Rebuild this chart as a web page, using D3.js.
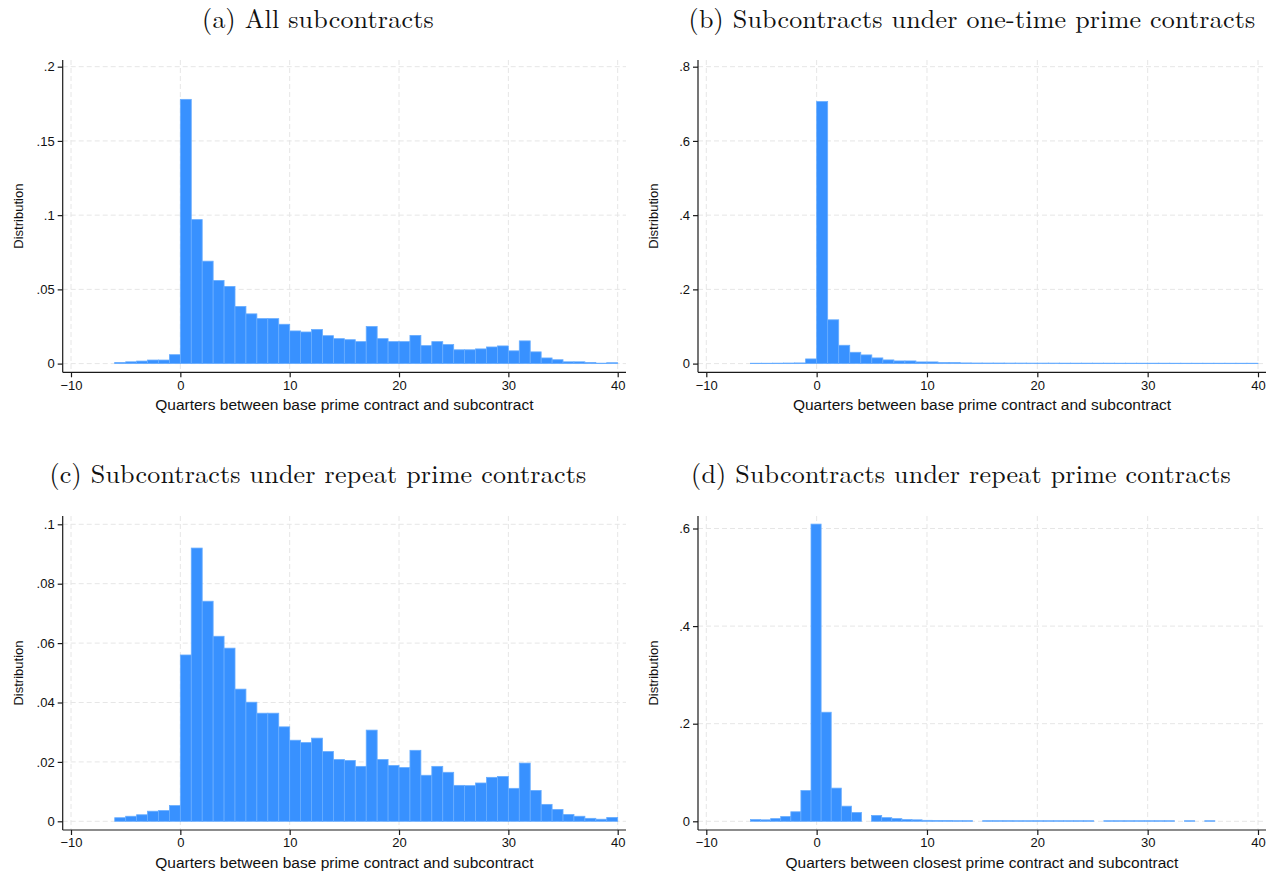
<!DOCTYPE html>
<meta charset="utf-8">
<head> <title> Timing of subcontracts </title>
<style>

body { margin: 0; background: #fff; }

.grid line {
  stroke: #e6e6e6;
  stroke-dasharray: 5,3;
  stroke-width: 1px;
}

.bars rect {
  fill: #3891ff;
  stroke: #68adff;
  stroke-width: 0.8px;
}

.axis line, .axis-line {
  stroke: #1a1a1a;
  stroke-width: 1.2px;
}

.axis text {
  font-family: "Liberation Sans", Arial, sans-serif;
  font-size: 13px;
  fill: #111;
}

.xlabel, .ylabel {
  font-family: "Liberation Sans", Arial, sans-serif;
  fill: #111;
}

.title {
  font-family: "Latin Modern Roman", "CMU Serif", "Liberation Serif", serif;
  font-size: 26px;
  letter-spacing: 0.2px;
  fill: #111;
}

</style>
</head>
<body>
<svg width="1279" height="875"></svg>
<script src="https://cdn.jsdelivr.net/npm/d3@7/dist/d3.min.js"></script>
<script>

// x ticks (quarters) shared by all four panels
var quarterTicks = [-10, 0, 10, 20, 30, 40];

// histogram bins: first left edge and bin width for each panel
var binStart = [-6, -6, -6, -6];
var binWidth = [1, 1, 1, 0.915];

// (a) all subcontracts, bins -6 .. 39
var allSubs = [0.0008, 0.0012, 0.0017, 0.0024, 0.0024, 0.006,
  0.178, 0.097, 0.069, 0.056, 0.052, 0.0385, 0.0335, 0.0303, 0.0303, 0.0265,
  0.022, 0.0213, 0.023, 0.0188, 0.0168, 0.0161, 0.0148, 0.025, 0.0168, 0.0148,
  0.0148, 0.019, 0.0121, 0.0148, 0.0128, 0.0093, 0.0093, 0.0099, 0.0112, 0.0119,
  0.0086, 0.0153, 0.0079, 0.0038, 0.0026, 0.0012, 0.0012, 0.0008, 0.0003, 0.0006];

// (b) subcontracts under one-time prime contracts
var oneTimeSubs = [0.001, 0.001, 0.0012, 0.0015, 0.0018, 0.0126,
  0.706, 0.118, 0.0494, 0.0305, 0.0234, 0.0153, 0.0099, 0.0072, 0.0072, 0.0045,
  0.0045, 0.0027, 0.0027, 0.0018, 0.0016, 0.0015, 0.0015, 0.0014, 0.0014, 0.0013,
  0.0013, 0.0013, 0.0012, 0.0012, 0.0012, 0.0012, 0.0012, 0.0011, 0.0011, 0.0011,
  0.0011, 0.0011, 0.001, 0.001, 0.001, 0.001, 0.001, 0.001, 0.001, 0.001];

// (c) subcontracts under repeat prime contracts, base prime contract
var repeatSubs = [0.0012, 0.0017, 0.0022, 0.0034, 0.0036, 0.0053,
  0.056, 0.092, 0.0741, 0.0623, 0.0583, 0.0445, 0.0401, 0.0364, 0.0364, 0.0318,
  0.0273, 0.0265, 0.028, 0.0235, 0.0208, 0.0205, 0.0185, 0.0307, 0.0208, 0.0188,
  0.0181, 0.0239, 0.0155, 0.0185, 0.0165, 0.0121, 0.012, 0.0129, 0.0148, 0.0151,
  0.0111, 0.0196, 0.0104, 0.0057, 0.004, 0.0023, 0.0017, 0.001, 0.0007, 0.0013];

// (d) subcontracts under repeat prime contracts, closest prime contract
var closestSubs = [0.0035, 0.003, 0.0055, 0.0097, 0.0195, 0.063,
  0.609, 0.2235, 0.068, 0.031, 0.018, 0, 0.012, 0.0075, 0.0055, 0.0035,
  0.003, 0.002, 0.0015, 0.0015, 0.0013, 0.0013, 0, 0.0013, 0.0013, 0.0013,
  0.0012, 0.0012, 0.0012, 0.0012, 0.0012, 0.0012, 0.0012, 0.0012, 0, 0.0012,
  0.0012, 0.0012, 0.0012, 0.0012, 0.0012, 0.0012, 0, 0.0012, 0, 0.0012];

// y ticks for each panel
var yTicksA = [0, 0.05, 0.1, 0.15, 0.2];
var yTicksB = [0, 0.2, 0.4, 0.6, 0.8];
var yTicksC = [0, 0.02, 0.04, 0.06, 0.08, 0.1];
var yTicksD = [0, 0.2, 0.4, 0.6];

var titles = ["(a) All subcontracts",
  "(b) Subcontracts under one-time prime contracts",
  "(c) Subcontracts under repeat prime contracts",
  "(d) Subcontracts under repeat prime contracts"];

var xLabels = ["Quarters between base prime contract and subcontract",
  "Quarters between base prime contract and subcontract",
  "Quarters between base prime contract and subcontract",
  "Quarters between closest prime contract and subcontract"];

var series = [allSubs, oneTimeSubs, repeatSubs, closestSubs];
var yTicks = [yTicksA, yTicksB, yTicksC, yTicksD];

// layout of each panel (pixel positions)
var layout = [
  { x0: 71,    x1: 617.7, left: 62.7,  right: 626,  base: 363.6, topTickY: 66.7,  top: 60,  axisY: 372.3, titleX: 318, titleY: 28 },
  { x0: 706.3, x1: 1258,  left: 698,   right: 1266, base: 363.6, topTickY: 66.7,  top: 60,  axisY: 372.3, titleX: 972, titleY: 28 },
  { x0: 71,    x1: 617.7, left: 62.7,  right: 626,  base: 821.3, topTickY: 524.3, top: 516, axisY: 830,   titleX: 318, titleY: 483 },
  { x0: 706.3, x1: 1258,  left: 698,   right: 1266, base: 821.3, topTickY: 528.5, top: 516, axisY: 830,   titleX: 961, titleY: 483 }
];

var svg = d3.select("svg");

// Stata style labels: .05 instead of 0.05
function stataFmt(d) {
  if (d === 0) return "0";
  return String(+d.toFixed(3)).replace(/^0\./, ".");
}

series.forEach(function(values, p) {
  var L = layout[p];
  var ticks = yTicks[p];
  var topVal = ticks[ticks.length - 1];

  var x = d3.scaleLinear().domain([-10, 40]).range([L.x0, L.x1]);
  var y = d3.scaleLinear().domain([0, topVal]).range([L.base, L.topTickY]);

  var g = svg.append("g").attr("class", "panel");

  //gridlines first, under the bars
  var grid = g.append("g").attr("class", "grid");
  grid.selectAll("line.h")
    .data(ticks)
    .enter().append("line")
      .attr("class", "h")
      .attr("x1", L.left)
      .attr("x2", L.right)
      .attr("y1", function(d) { return y(d); })
      .attr("y2", function(d) { return y(d); });
  grid.selectAll("line.v")
    .data(quarterTicks)
    .enter().append("line")
      .attr("class", "v")
      .attr("x1", function(d) { return x(d); })
      .attr("x2", function(d) { return x(d); })
      .attr("y1", L.top)
      .attr("y2", L.axisY);

  //bars
  var bins = values.map(function(v, i) {
    return { lo: binStart[p] + i * binWidth[p], hi: binStart[p] + (i + 1) * binWidth[p], v: v };
  }).filter(function(d) { return d.v > 0; });

  g.append("g").attr("class", "bars")
    .selectAll("rect")
    .data(bins)
    .enter().append("rect")
      .attr("x", function(d) { return x(d.lo); })
      .attr("width", function(d) { return x(d.hi) - x(d.lo); })
      .attr("y", function(d) { return y(d.v); })
      .attr("height", function(d) { return y(0) - y(d.v); });

  //axes
  var xAxis = g.append("g")
    .attr("class", "axis")
    .attr("transform", "translate(0," + L.axisY + ")")
    .call(d3.axisBottom(x).tickValues(quarterTicks).tickSize(5).tickPadding(3));
  xAxis.select(".domain").remove();

  var yAxis = g.append("g")
    .attr("class", "axis")
    .attr("transform", "translate(" + L.left + ",0)")
    .call(d3.axisLeft(y).tickValues(ticks).tickFormat(stataFmt).tickSize(5).tickPadding(3));
  yAxis.select(".domain").remove();

  g.append("line").attr("class", "axis-line")
    .attr("x1", L.left).attr("x2", L.right)
    .attr("y1", L.axisY).attr("y2", L.axisY);
  g.append("line").attr("class", "axis-line")
    .attr("x1", L.left).attr("x2", L.left)
    .attr("y1", L.top).attr("y2", L.axisY);

  //axis titles
  g.append("text")
    .attr("class", "xlabel")
    .attr("x", (L.left + L.right) / 2)
    .attr("y", L.axisY + 38)
    .attr("text-anchor", "middle")
    .style("font-size", "15.5px")
    .text(xLabels[p]);

  g.append("text")
    .attr("class", "ylabel")
    .attr("transform", "translate(" + (L.left - 40) + "," + ((L.top + L.axisY) / 2) + ") rotate(-90)")
    .attr("text-anchor", "middle")
    .style("font-size", "13px")
    .text("Distribution");

  //panel title
  g.append("text")
    .attr("class", "title")
    .attr("x", L.titleX)
    .attr("y", L.titleY)
    .attr("text-anchor", "middle")
    .text(titles[p]);
});

</script>
</body>
